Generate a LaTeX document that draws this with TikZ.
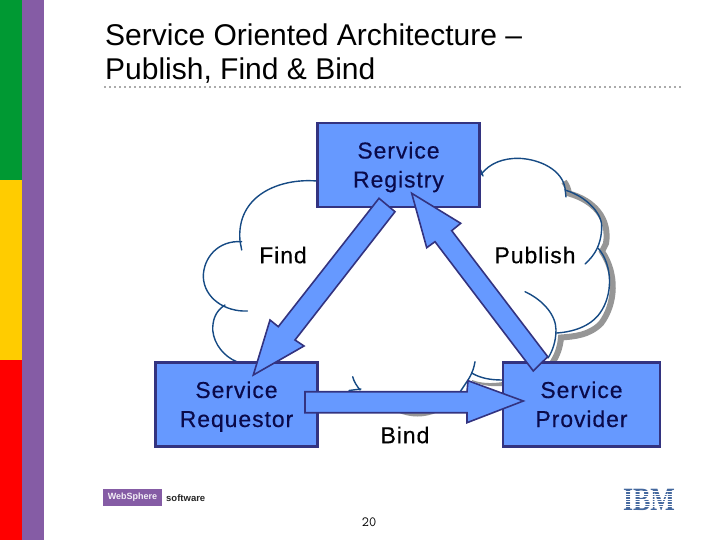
\documentclass[tikz,border=0pt]{standalone}
\usepackage{fontspec}
\setmainfont{Liberation Sans}
\newfontfamily\logoserif{Liberation Serif}
\definecolor{boxblue}{HTML}{6699FF}
\definecolor{edgeblue}{HTML}{333380}
\definecolor{cloudblue}{HTML}{164A84}
\definecolor{sgreen}{HTML}{009933}
\definecolor{syellow}{HTML}{FFCC00}
\definecolor{sred}{HTML}{FF0000}
\definecolor{spurple}{HTML}{855CA5}
\definecolor{shadowgrey}{HTML}{969696}
\definecolor{ibmblue}{HTML}{44689E}
\definecolor{boxtext}{HTML}{0A0A4A}
\newcommand{\lnstrut}{\rule[-6pt]{0pt}{28pt}}
\newcommand{\labelfont}{\fontsize{23}{29}\selectfont\addfontfeatures{LetterSpace=4,FakeBold=0.35}}
\tikzset{
  boxnode/.style={draw=edgeblue,fill=boxblue,text=boxtext,line width=2.4pt,minimum width=#1,minimum height=84pt,inner sep=0pt,align=center,font=\labelfont},
  boxnode/.default=160pt,
  arrowshape/.style={draw=edgeblue,fill=boxblue,line width=1.6pt,line join=miter},
  cloudline/.style={draw=cloudblue,line width=1.4pt,line cap=round},
  cloudshade/.style={draw=shadowgrey,line width=6pt},
  lbl/.style={font=\labelfont,inner sep=0pt},
  dots/.style={draw=shadowgrey!80,line width=2.2pt,dash pattern=on 2.2pt off 2.8pt}
}
\begin{document}
\begin{tikzpicture}[x=1pt,y=-1pt]
\useasboundingbox (0,0) rectangle (720,540);
\fill[white] (0,0) rectangle (720,540);
% side stripes
\fill[sgreen] (0,0) rectangle (22,180);
\fill[syellow] (0,180) rectangle (22,360);
\fill[sred] (0,360) rectangle (22,540);
\fill[spurple] (22,0) rectangle (44,540);
% title
\node[anchor=west,inner sep=0pt,font=\fontsize{30}{36}\selectfont] (titleA) at (105,35) {Service Oriented Architecture --};
\node[anchor=west,inner sep=0pt,font=\fontsize{30}{36}\selectfont] (titleB) at (105,71) {Publish, Find \& Bind};
\coordinate (ruleL) at (104,87);
\coordinate (ruleR) at (682,87);
\draw[dots] (ruleL) -- (ruleR);
% cloud shadows (right cloud)
\begin{scope}[shift={(4,3.5)}]
\draw[cloudshade] (560,178) .. controls (563,182) and (564,185) .. (565,190)
  .. controls (590,197) and (606,215) .. (602,240) -- (598,248)
  .. controls (613,270) and (612,300) .. (597,320) .. controls (585,332) and (570,333) .. (557,334)
  .. controls (556,345) and (553,352) .. (548,360);
\end{scope}
\fill[shadowgrey] (472,380) .. controls (480,383) and (490,384) .. (503,382) -- (503,386) .. controls (490,387) and (480,385) .. (472,381) -- cycle;
\fill[shadowgrey] (397,412) .. controls (410,418) and (425,418) .. (438,412) -- cycle;
% cloud outlines
\draw[cloudline] (316.7,181) .. controls (280,178) and (236,195) .. (240,241) -- (241.7,250);
\draw[cloudline] (241.7,241.7) .. controls (218,240) and (203.3,258) .. (203.3,276.7)
  .. controls (204,298) and (225,312) .. (247.3,311);
\draw[cloudline] (225,305) .. controls (214,312) and (212.7,322) .. (212.7,330) .. controls (214,345) and (225,357) .. (236.7,361.7);
\draw[cloudline] (352.7,376.7) .. controls (354,382) and (357,386) .. (360,390);
\draw[cloudline] (349,390.5) -- (361,389);
\draw[cloudline] (483,176) -- (480.7,170);
\draw[cloudline] (480.7,175) .. controls (490,162) and (505,158.3) .. (518.3,158.3)
  .. controls (540,159) and (562,170) .. (565,188) -- (566,197);
\draw[cloudline] (565,190) .. controls (588,197) and (603,215) .. (601.7,228) .. controls (601,245) and (595,255) .. (585,264);
\draw[cloudline] (598,248) .. controls (613,265) and (613,295) .. (600,313) .. controls (590,327) and (572,332) .. (556.7,333);
\draw[cloudline] (525,291.7) .. controls (543,300) and (556,315) .. (556,330) .. controls (556,342) and (552,352) .. (548,358);
\draw[cloudline] (475,361.7) .. controls (474,367) and (473,372) .. (468,380) -- (460,392);
\draw[cloudline] (471.7,373) .. controls (480,378) and (490,380) .. (502,380);
% boxes
\node[boxnode=162pt] (registry) at (398.5,165) {Service\lnstrut\\Registry\lnstrut};
\node[boxnode=162pt] (requestor) at (236.5,404.5) {Service\lnstrut\\Requestor\lnstrut};
\node[boxnode=157pt] (provider) at (581.5,404.5) {Service\lnstrut\\Provider\lnstrut};
% arrows
\draw[arrowshape] (379,198.3) -- (395,211.7) -- (295,340) -- (304,346) -- (253.3,375) -- (270,320) -- (278.3,326.7) -- cycle;
\draw[arrowshape] (547.7,356.7) -- (533.3,371) -- (435,241.7) -- (426.7,247.7) -- (411.7,193.3) -- (460.7,223.3) -- (451.7,230.7) -- cycle;
\draw[arrowshape] (305,391.7) -- (467,391.7) -- (468,380.7) -- (523.3,401) -- (467,422.7) -- (467,412.7) -- (305,412.7) -- cycle;
% labels
\node[lbl] (find) at (283,255) {Find};
\node[lbl] (publish) at (535,255) {Publish};
\node[lbl] (bind) at (405,435) {Bind};
\node[font=\fontsize{14}{16}\selectfont\ttfamily,inner sep=0pt] (pagenum) at (369,522) {20};
% footer logos
\node[fill=spurple,text=white!90!spurple,font=\fontsize{9}{10}\selectfont\bfseries,minimum width=59pt,minimum height=17pt,inner sep=0pt] (ws) at (132.5,497.5) {WebSphere};
\node[anchor=west,text=black!85,font=\fontsize{9.5}{10}\selectfont\bfseries,inner sep=0pt] (sw) at (166,498) {software};
\node[text=ibmblue,inner sep=0pt] (ibm) at (649,499.5) {\scalebox{1}[1.25]{\logoserif\bfseries\fontsize{26}{26}\selectfont IBM}};
\foreach \yy in {491.5,494,496.5,499,501.5,504,506.5}
  \draw[white,line width=0.8pt] (620,\yy) -- (678,\yy);
\end{tikzpicture}
\end{document}
